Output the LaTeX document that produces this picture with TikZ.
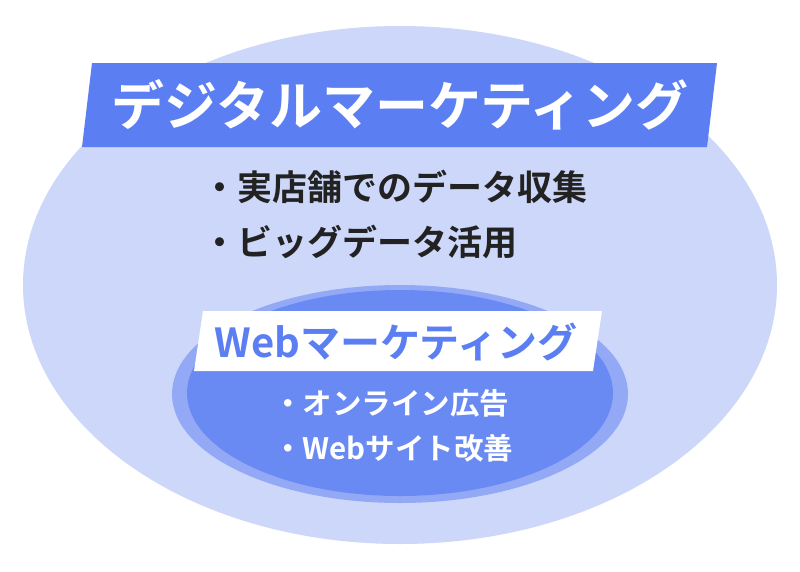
\documentclass[tikz,border=0pt]{standalone}
\usepackage{fontspec}
\setmainfont{Noto Sans CJK JP}[BoldFont={Noto Sans CJK JP Bold}]
\usepackage{tikz}
\usetikzlibrary{positioning}

\definecolor{outerblue}{HTML}{CDD7F9}
\definecolor{bannerblue}{HTML}{5B7FF3}
\definecolor{ringblue}{HTML}{94A9F6}
\definecolor{innerblue}{HTML}{6A8AF3}
\definecolor{textdark}{HTML}{222222}

\tikzset{
	bullet/.style={anchor=west, inner sep=0pt, font=\bfseries\fontsize{35}{40}\selectfont, text=textdark},
	webbullet/.style={anchor=west, inner sep=0pt, font=\bfseries\fontsize{29.5}{34}\selectfont, text=white}
}

\begin{document}
\begin{tikzpicture}[x=1pt, y=-1pt, text=black]
	\def \cx {400}
\def \bigtop {63}
\def \bigbot {147}
\def \webtop {311}
\def \webbot {371}

\useasboundingbox (0,0) rectangle (800,571);

%outer ellipse
\fill[outerblue] (\cx,285) ellipse (377 and 259);

%Digital banner
\fill[bannerblue] (92,\bigtop) -- (717,\bigtop) -- (707,\bigbot) -- (82,\bigbot) -- cycle;
\node[inner sep=0pt, white, font=\bfseries\fontsize{53}{60}\selectfont] (digital) at (\cx,105) {デジタルマーケティング};

%bullets under banner
\node[bullet] (shop) at (202,187) {・実店舗でのデータ収集};
\node[bullet] (bigdata) at (202,242) {・ビッグデータ活用};

%inner ellipse with ring
\fill[ringblue] (400,394) ellipse (228 and 109);
\fill[innerblue] (400,393) ellipse (213 and 103);

%Web banner
\fill[white] (203,\webtop) -- (602,\webtop) -- (593,\webbot) -- (194,\webbot) -- cycle;
\node[inner sep=0pt, text=bannerblue, font=\bfseries\fontsize{40}{46}\selectfont] (web) at (396,342) {Webマーケティング};

\node[webbullet] (ads) at (273,403) {・オンライン広告};
\node[webbullet] (site) at (273,448) {・Webサイト改善};

	\end{tikzpicture}
\end{document}
